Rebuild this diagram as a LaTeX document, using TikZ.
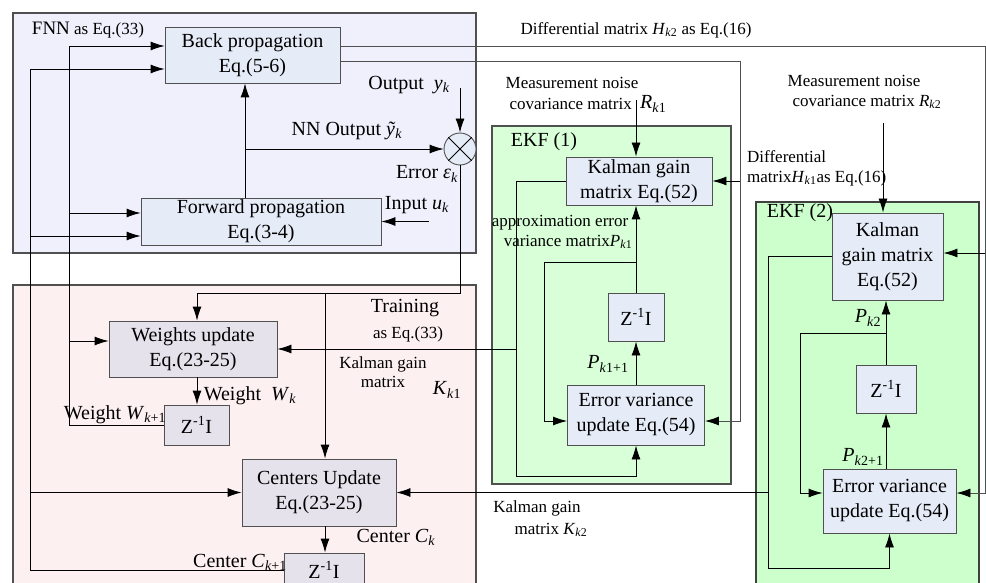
\documentclass[tikz,border=0pt]{standalone}
\usepackage{fontspec}
\setmainfont{Liberation Serif}
\usetikzlibrary{arrows.meta, positioning}

\definecolor{fnnbg}{HTML}{F0F0FC}
\definecolor{trnbg}{HTML}{FDF0F0}
\definecolor{ekfa}{HTML}{D8FFD8}
\definecolor{ekfb}{HTML}{CCFFCC}
\definecolor{blkbl}{HTML}{E6ECF7}
\definecolor{blkgr}{HTML}{E6E2EC}
\definecolor{edge}{HTML}{505050}

\newcommand{\ivar}[2]{\textit{#1}\textsubscript{#2}}
\newcommand{\zinv}{Z\textsuperscript{-1}I}

\begin{document}
\begin{tikzpicture}[x=1pt, y=-1pt,
    blk/.style={rectangle, draw=edge, line width=0.9pt, fill=blkbl, inner sep=0pt, align=center, font=\fontsize{20}{25}\selectfont},
    trn/.style={blk, fill=blkgr},
    lbl/.style={inner sep=0pt, font=\fontsize{20}{23}\selectfont},
    slbl/.style={inner sep=0pt, font=\fontsize{17}{19}\selectfont},
    arr/.style={-{Latex[length=14pt,width=9pt,color=black]}, line width=0.9pt},
    wire/.style={line width=0.9pt},
    panel/.style={draw=edge, line width=1.2pt}
]
\useasboundingbox (0,0) rectangle (986,583);
\clip (0,0) rectangle (986,583);

% Panels
\draw[panel, fill=fnnbg] (13,13) rectangle (476,253);
\draw[panel, fill=trnbg] (13,285) rectangle (476,600);
\draw[panel, fill=ekfa, line width=1.5pt] (492,126) rectangle (731,484);
\draw[panel, fill=ekfb, line width=2pt, draw=edge!80!black] (756,202) rectangle (979,600);

% FNN blocks
\node[blk, minimum width=175pt, minimum height=56pt] (back) at (252.5,55) {Back propagation\\Eq.(5-6)};
\node[blk, minimum width=240pt, minimum height=47pt] (fwd) at (261,221.5) {Forward propagation\\Eq.(3-4)};
\node[circle, draw=edge, fill=blkbl, line width=0.9pt, minimum size=32pt, inner sep=0pt] (sum) at (460,149) {};

% Training blocks
\node[trn, minimum width=168pt, minimum height=56pt] (wup) at (193,349) {Weights update\\Eq.(23-25)};
\node[trn, minimum width=65pt, minimum height=40pt] (zw) at (196.5,425) {\zinv};
\node[trn, minimum width=154pt, minimum height=67pt] (cup) at (319,492.5) {Centers Update\\Eq.(23-25)};
\node[trn, minimum width=80pt, minimum height=34pt] (zc) at (324,570) {\zinv};

% EKF (1)
\node[blk, minimum width=146pt, minimum height=48pt] (kal1) at (639,181) {Kalman gain\\matrix Eq.(52)};
\node[blk, minimum width=56pt, minimum height=48pt] (zi1) at (636,317) {\zinv};
\node[blk, minimum width=137pt, minimum height=60pt] (err1) at (636,415) {Error variance\\update Eq.(54)};

% EKF (2)
\node[blk, minimum width=111pt, minimum height=87pt] (kal2) at (887.5,256.5) {Kalman\\gain matrix\\Eq.(52)};
\node[blk, minimum width=60pt, minimum height=48pt] (zi2) at (886,389) {\zinv};
\node[blk, minimum width=133pt, minimum height=64pt] (err2) at (889.5,501) {Error variance\\update Eq.(54)};

% Wire corners
\coordinate (tap) at (245,149);
\coordinate (outtop) at (460,88);
\coordinate (inr) at (429,221.5);
\coordinate (er) at (460,293);
\coordinate (ew) at (197,293);
\coordinate (ec) at (325,293);
\coordinate (wl) at (69,46);
\coordinate (cl) at (30,69);
\coordinate (h1) at (740,61);
\coordinate (h2) at (985,46);
\coordinate (r1) at (636,100);
\coordinate (r2) at (883,123);
\coordinate (k1b) at (516,476);
\coordinate (p1) at (544,262);
\coordinate (k2b) at (768,568);
\coordinate (p2) at (800,333);
\coordinate (fa1) at ([yshift=8.5pt]fwd.west);
\coordinate (fa2) at ([yshift=-14.5pt]fwd.west);
\coordinate (wa) at ([yshift=8pt]wup.west);
\coordinate (ea1) at ([yshift=-6pt]err1.east);
\coordinate (eb1) at ([yshift=-6pt]err1.west);
\coordinate (ka2) at ([yshift=3.5pt]kal2.east);
\coordinate (ea2) at ([yshift=8pt]err2.east);
\coordinate (eb2) at ([yshift=8pt]err2.west);

% FNN wires
\draw[arr] (fwd.north -| tap) -- (back.south -| tap);
\draw[arr] (tap) -- (sum.west);
\draw[arr] (outtop) -- (sum.north);
\draw[arr] (inr) -- (fwd.east);
\draw[wire] (sum.north west) -- (sum.south east) (sum.south west) -- (sum.north east);

% Error to training
\draw[arr] (sum.south) -- (er) -- (ew) -- (wup.north -| ew);
\draw[arr] (ec) -- (cup.north -| ec);
\draw[arr] (wup.south -| ew) -- (zw.north -| ew);
\draw[arr] (cup.south -| ec) -- (zc.north -| ec);

% Feedback of weights and centers
\draw[arr] (zw.west) -| (wl) -- (back.west |- wl);
\draw[arr] (zc.west) -| (cl) -- (back.west |- cl);
\draw[arr] (wl |- fa1) -- (fa1);
\draw[arr] (wl |- wa) -- (wa);
\draw[arr] (cl |- fa2) -- (fa2);
\draw[arr] (cl |- cup.west) -- (cup.west);

% Differential matrices
\draw[arr, edge] (back.east |- h1) -- (h1) -- (h1 |- ea1) -- (ea1);
\draw[arr] (h1 |- kal1.east) -- (kal1.east);
\draw[arr, edge] (back.east |- h2) -- (h2) -- (h2 |- ea2) -- (ea2);
\draw[arr] (h2 |- ka2) -- (ka2);

% EKF (1) wires
\draw[arr] (r1) -- (r1 |- kal1.north);
\draw[arr] (kal1.west) -| (k1b) -| (err1.south);
\draw[arr] (k1b |- wup.east) -- (wup.east);
\draw[arr] (zi1.north) -- (kal1.south -| zi1.north);
\draw[arr] (err1.north) -- (zi1.south);
\draw[arr] (zi1.north |- p1) -- (p1) |- (eb1);

% EKF (2) wires
\draw[arr] (r2) -- (r2 |- kal2.north);
\draw[arr] (kal2.west) -| (k2b) -| (err2.south);
\draw[arr] (k2b |- cup.east) -- (cup.east);
\draw[arr] (zi2.north) -- (kal2.south -| zi2.north);
\draw[arr] (err2.north -| zi2) -- (zi2.south);
\draw[arr] (zi2.north |- p2) -- (p2) |- (eb2);

% Labels
\node[slbl] (fnnlbl) at (88,30) {{\fontsize{19}{21}\selectfont FNN} as Eq.(33)};
\node[lbl] (outlbl) at (409,85) {Output\ \ \ivar{y}{\textit{k}}};
\node[lbl] (nnlbl) at (347,131) {NN Output \ivar{ỹ}{\textit{k}}};
\node[lbl] (errlbl) at (427,174) {Error \ivar{ε}{\textit{k}}};
\node[lbl] (inlbl) at (417,205) {Input \ivar{u}{\textit{k}}};
\node[lbl] (trnlbl) at (405,308) {Training};
\node[slbl] (trneq) at (408,334) {as Eq.(33)};
\node[lbl] (wklbl) at (250,396) {Weight\ \ \ivar{W}{\textit{k}}};
\node[lbl] (wk1lbl) at (115,415) {Weight \ivar{W}{\textit{k}+1}};
\node[lbl] (cklbl) at (396,537) {Center \ivar{C}{\textit{k}}};
\node[lbl] (ck1lbl) at (240,562) {Center \ivar{C}{\textit{k}+1}};
\node[slbl, align=center] (kk1lbl) at (383,372) {Kalman gain\\matrix};
\node[lbl] (kk1) at (447,390) {\ivar{K}{\textit{k}1}};
\node[slbl] (kk2a) at (537,508) {Kalman gain};
\node[slbl] (kk2b) at (551,530) {matrix \ivar{K}{\textit{k}2}};
\node[slbl] (h2lbl) at (636,30) {Differential matrix \ivar{H}{\textit{k}2} as Eq.(16)};
\node[slbl] (r1lbl) at (572,83) {Measurement noise};
\node[slbl, anchor=east] (r1lbl2) at (632,104) {covariance matrix};
\node[lbl, anchor=west] (r1sym) at (640,104) {\ivar{R}{\textit{k}1}};
\node[slbl, anchor=west] (h1lbl) at (747,157) {Differential};
\node[slbl, anchor=west] (h1lbl2) at (747,178) {matrix\ivar{H}{\textit{k}1}as Eq.(16)};
\node[slbl] (r2lbl) at (854,81) {Measurement noise};
\node[slbl] (r2lbl2) at (867,102) {covariance matrix \ivar{R}{\textit{k}2}};
\node[lbl] (ekf1lbl) at (544,142) {EKF (1)};
\node[lbl] (ekf2lbl) at (800,213) {EKF (2)};
\node[slbl] (p1lbl) at (560,223) {approximation error};
\node[slbl] (p1lbl2) at (568,242) {variance matrix\ivar{P}{\textit{k}1}};
\node[lbl] (p11lbl) at (608,364) {\ivar{P}{\textit{k}1+1}};
\node[lbl] (p2lbl) at (868,318) {\ivar{P}{\textit{k}2}};
\node[lbl] (p21lbl) at (863,457) {\ivar{P}{\textit{k}2+1}};

\end{tikzpicture}
\end{document}
